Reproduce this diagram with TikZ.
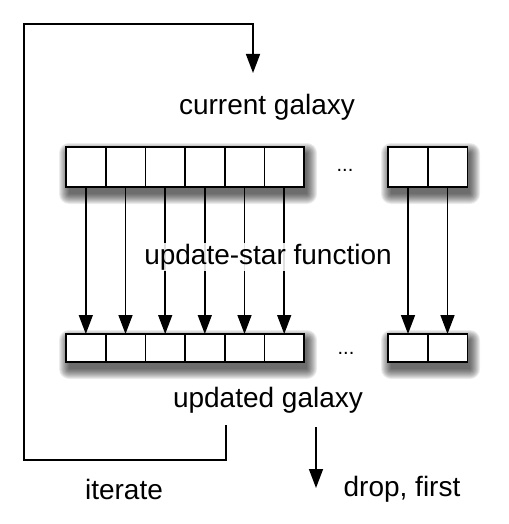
\documentclass[tikz,border=0pt]{standalone}
\usepackage{fontspec}
\setmainfont{Liberation Sans}
\usetikzlibrary{arrows.meta}
\begin{document}
\begin{tikzpicture}[x=1pt,y=-1pt,
  cell/.style={draw=black,line width=1.6pt,fill=white,minimum width=39.6pt,inner sep=0pt,outer sep=0pt},
  topcell/.style={cell,minimum height=39.6pt},
  botcell/.style={cell,minimum height=28pt},
  lbl/.style={font=\fontsize{28}{33}\selectfont,inner sep=1pt},
  dots/.style={font=\fontsize{20}{24}\selectfont,inner sep=0pt},
  arr/.style={line width=1.5pt,-{Triangle[length=19pt,width=14pt]}},
  shlayer/.style={fill=black,opacity=0.075}
]
\useasboundingbox (0,0) rectangle (508,524);
% shadows
\foreach \xa/\ya/\xb/\yb in {66/147/304/187,388/147/467/187,66/334/304/362,388/334/467/362}{
  \foreach \k in {0,...,10}{
    \fill[shlayer,rounded corners=\k pt] (\xa+3-\k,\ya+6-\k) rectangle (\xb+3+\k,\yb+7+\k);
  }
}
% cells
\foreach \i/\x in {1/85.8,2/125.5,3/165.2,4/204.8,5/244.5,6/284.2,7/408,8/447.5}{
  \node[topcell] (t\i) at (\x,167) {};
  \node[botcell] (b\i) at (\x,348) {};
}
\node[dots] (tdots) at (345,170) {...};
\node[dots] (bdots) at (346,353) {...};
% arrows
\foreach \i in {1,...,8}{
  \draw[arr] (t\i.south) -- (b\i.north);
}
% labels
\node[lbl] (cur) at (267,107) {current galaxy};
\node[lbl,fill=white,fill opacity=0.88,text opacity=1] (fun) at (268,257) {update-star function};
\node[lbl] (upd) at (268,400) {updated galaxy};
\node[lbl] (it) at (124,489) {iterate};
\node[lbl] (drop) at (402,489) {drop, first};
% loop
\coordinate (ls) at (226,425);
\coordinate (lb) at (226,460);
\coordinate (ll) at (24,460);
\coordinate (lt) at (24,24);
\coordinate (lr) at (253,24);
\coordinate (le) at (253,73);
\draw[arr,line join=miter] (ls) -- (lb) -- (ll) -- (lt) -- (lr) -- (le);
% drop arrow
\coordinate (ds) at (316,427);
\coordinate (de) at (316,488);
\draw[arr] (ds) -- (de);
\end{tikzpicture}
\end{document}
